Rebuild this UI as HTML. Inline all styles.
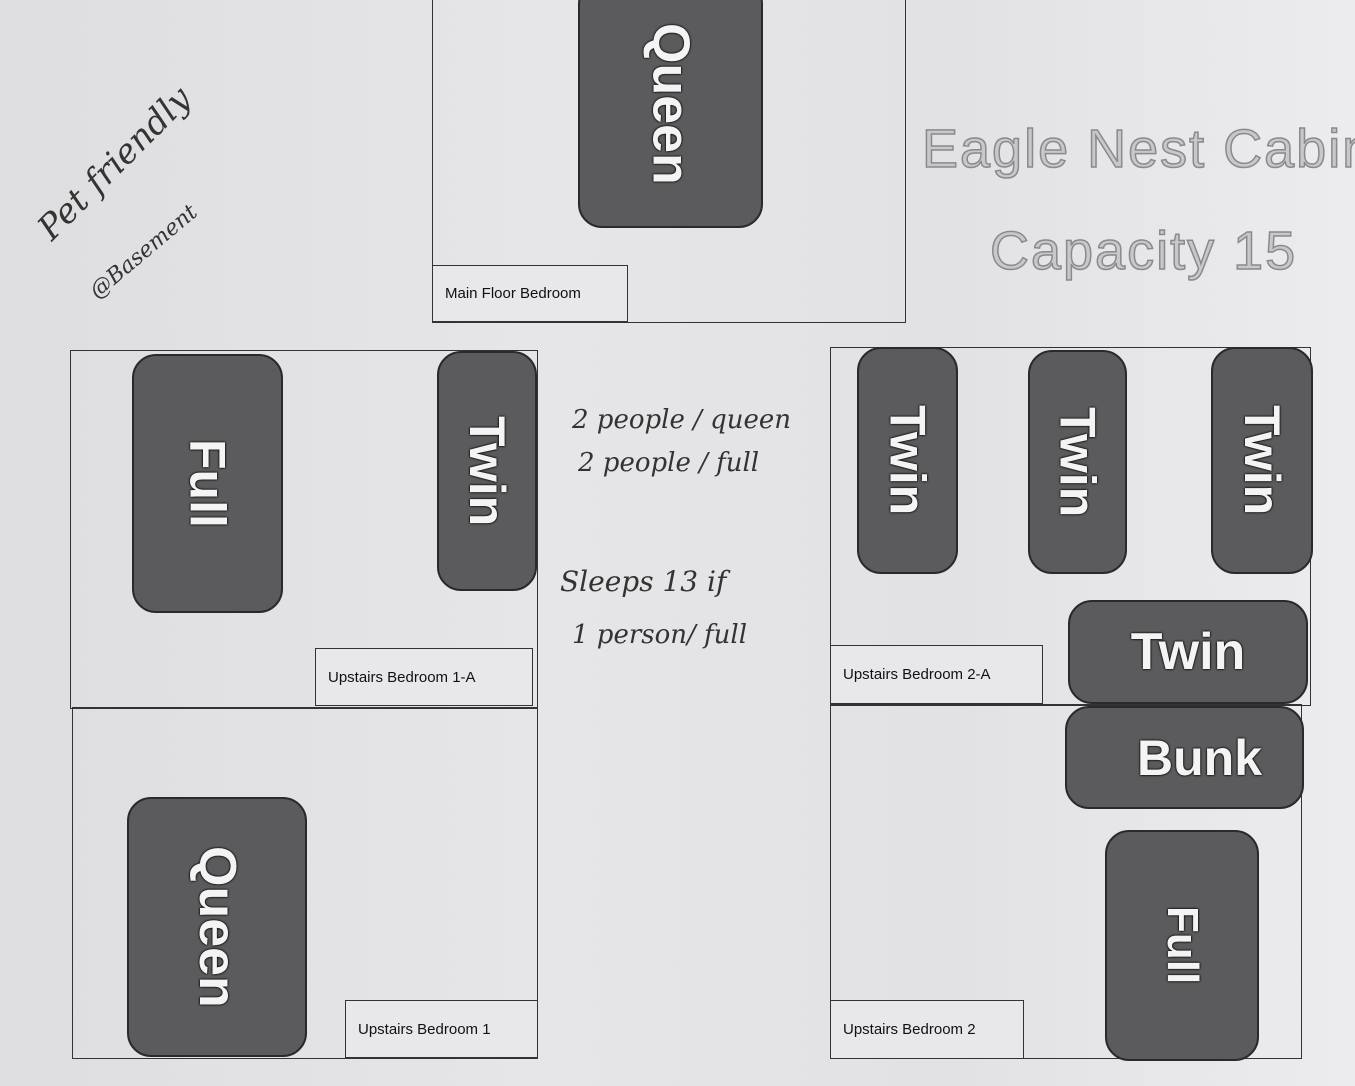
<!DOCTYPE html>
<html><head><meta charset="utf-8"><style>
body{margin:0;width:1355px;height:1086px;overflow:hidden;background:linear-gradient(90deg,#dedee0 0%,#e6e6e8 40%,#e2e2e4 70%,#ececee 100%);font-family:"Liberation Sans",sans-serif;position:relative}
.b{position:absolute;border:1.5px solid #333;box-sizing:border-box}
.l{position:absolute;border:1.5px solid #333;box-sizing:border-box;background:#e8e8ea;font-size:15px;color:#111;display:flex;align-items:center;padding-left:12px}
.bed{position:absolute;background:#5b5b5d;border:2px solid #2a2a2a;border-radius:24px;box-sizing:border-box;display:flex;align-items:center;justify-content:center;color:#f4f4f4;font-weight:bold;text-shadow:0 0 2px #000,0 0 2px #000}
.v{writing-mode:vertical-rl}
.t{position:absolute;color:#c8c8ca;-webkit-text-stroke:1.5px #8a8a8c;font-size:54px;letter-spacing:2px;white-space:nowrap}
.h{position:absolute;font-family:"DejaVu Serif",serif;font-style:italic;color:#333;font-size:28px;white-space:nowrap;font-weight:lighter}
</style></head><body>
<div class="b" style="left:432px;top:-5px;width:474px;height:328px"></div>
<div class="l" style="left:432px;top:265px;width:196px;height:57px">Main Floor Bedroom</div>
<div class="bed" style="left:578px;top:-20px;width:185px;height:248px;font-size:52px"><span class="v">Queen</span></div>
<div class="t" style="left:922px;top:118px">Eagle Nest Cabin</div>
<div class="t" style="left:990px;top:220px">Capacity 15</div>

<div class="b" style="left:70px;top:350px;width:468px;height:359px"></div>
<div class="b" style="left:72px;top:707px;width:466px;height:352px"></div>
<div class="bed" style="left:132px;top:354px;width:151px;height:259px;font-size:50px"><span class="v">Full</span></div>
<div class="bed" style="left:437px;top:351px;width:100px;height:240px;font-size:50px"><span class="v">Twin</span></div>
<div class="l" style="left:315px;top:648px;width:218px;height:58px">Upstairs Bedroom 1-A</div>
<div class="bed" style="left:127px;top:797px;width:180px;height:260px;font-size:52px"><span class="v">Queen</span></div>
<div class="l" style="left:345px;top:1000px;width:193px;height:58px">Upstairs Bedroom 1</div>

<div class="b" style="left:830px;top:347px;width:481px;height:359px"></div>
<div class="b" style="left:830px;top:704px;width:472px;height:355px"></div>
<div class="bed" style="left:857px;top:347px;width:101px;height:227px;font-size:50px"><span class="v">Twin</span></div>
<div class="bed" style="left:1028px;top:350px;width:99px;height:224px;font-size:50px"><span class="v">Twin</span></div>
<div class="bed" style="left:1211px;top:347px;width:102px;height:227px;font-size:50px"><span class="v">Twin</span></div>
<div class="bed" style="left:1068px;top:600px;width:240px;height:104px;font-size:52px">Twin</div>
<div class="bed" style="left:1065px;top:706px;width:239px;height:103px;font-size:50px;padding-left:30px">Bunk</div>
<div class="bed" style="left:1105px;top:830px;width:154px;height:231px;font-size:44px"><span class="v">Full</span></div>
<div class="l" style="left:830px;top:645px;width:213px;height:59px">Upstairs Bedroom 2-A</div>
<div class="l" style="left:830px;top:1000px;width:194px;height:59px">Upstairs Bedroom 2</div>

<div class="h" style="left:30px;transform:rotate(-45deg);transform-origin:left top;font-size:34px;top:220px">Pet friendly</div>
<div class="h" style="left:85px;top:285px;transform:rotate(-40deg);transform-origin:left top;font-size:22px">@Basement</div>
<div class="h" style="left:572px;top:405px;font-size:26px">2 people / queen</div>
<div class="h" style="left:578px;top:448px;font-size:26px">2 people / full</div>
<div class="h" style="left:560px;top:565px;font-size:28px">Sleeps 13 if</div>
<div class="h" style="left:572px;top:620px;font-size:26px">1 person/ full</div>
</body></html>
